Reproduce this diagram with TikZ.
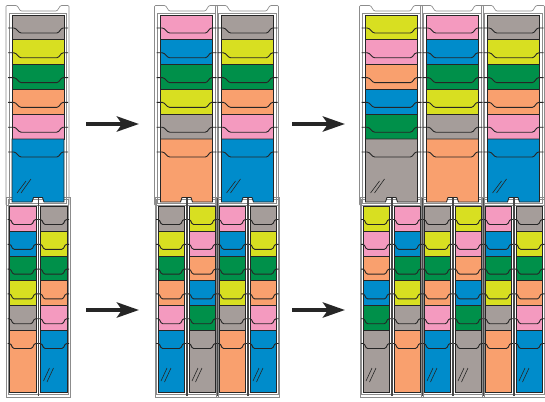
\documentclass[tikz,border=0pt]{standalone}
\usetikzlibrary{arrows.meta}
\definecolor{cgray}{HTML}{A59D9A}
\definecolor{cyel}{HTML}{D8DF21}
\definecolor{cgrn}{HTML}{00904A}
\definecolor{corg}{HTML}{F9A06E}
\definecolor{cpnk}{HTML}{F49ABF}
\definecolor{cblu}{HTML}{008CCB}
\definecolor{frm}{HTML}{8C8C8C}
\definecolor{ink}{HTML}{262626}
\tikzset{
 pocketline/.style={draw=ink, line width=0.85pt},
 tabln/.style={draw=ink, line width=0.9pt, rounded corners=1.2pt},
 frameln/.style={draw=frm, line width=0.65pt},
 divider/.style={draw=ink!85, line width=1.5pt},
 glass/.style={draw=ink, line width=0.6pt},
 bigarrow/.style={draw=ink, line width=4.5pt, -{Stealth[length=22pt,width=15pt,inset=5pt]}},
}
\newcommand{\seqA}{cgray,cyel,cgrn,corg,cpnk,cblu}
\newcommand{\seqB}{cpnk,cblu,cgrn,cyel,cgray,corg}
\newcommand{\seqC}{cyel,cpnk,corg,cblu,cgrn,cgray}
\newcommand{\wcol}[2]{%
 \foreach \cc [count=\ii from 0] in #2 {
   \pgfmathsetmacro\ya{15+24.8*\ii}
   \ifnum\ii<5
     \draw[pocketline, fill=\cc] (#1,\ya) rectangle ++(52,24.8);
   \else
     \draw[pocketline, fill=\cc] (#1,\ya) -- ++(52,0) -- (#1+52,202) -- (#1+32,202) -- (#1+30.5,197.5) -- (#1+21.5,197.5) -- (#1+20,202) -- (#1,202) -- cycle;
   \fi
   \draw[tabln] (#1-4,\ya+13) -- ++(7,0) -- ++(5,5) -- ++(38,0) -- ++(4,-5) -- ++(6,0);
 }
}
\newcommand{\ncol}[2]{%
 \foreach \cc [count=\ii from 0] in #2 {
   \pgfmathsetmacro\ya{206.5+24.8*\ii}
   \ifnum\ii<5
     \draw[pocketline, fill=\cc] (#1,\ya) rectangle ++(26.5,24.8);
   \else
     \draw[pocketline, fill=\cc] (#1,\ya) rectangle (#1+26.5,392.5);
   \fi
   \draw[tabln] (#1-2,\ya+13) -- ++(3,0) -- ++(2.5,5) -- ++(19,0) -- ++(2.5,-5) -- ++(3.5,0);
 }
}
\newcommand{\ufrm}[1]{%
 \draw[frameln, rounded corners=1pt] (#1-6,205.5) -- (#1-6,5.5) -- (#1+5,5.5) -- (#1+8.5,11) -- (#1+45,11) -- (#1+48.5,5.5) -- (#1+57,5.5) -- (#1+57,205.5) -- cycle;
 \draw[frameln] (#1-3,13) rectangle (#1+54.5,203.5);
}
\newcommand{\lfrm}[1]{%
 \draw[frameln] (#1-5.5,197) rectangle (#1+58,397.5);
 \draw[frameln] (#1-4,199) rectangle (#1+56.5,394.5);
}
\newcommand{\dvd}[1]{\draw[divider] (#1,197.5) -- (#1,395.5);}
\newcommand{\glw}[1]{\draw[glass] (#1+5,193) -- (#1+14,181); \draw[glass] (#1+9,193) -- (#1+19,179);}
\newcommand{\gln}[1]{\draw[glass] (#1+3,381) -- (#1+9,368); \draw[glass] (#1+6.5,382) -- (#1+13,368);}
\begin{document}
\begin{tikzpicture}[x=1pt,y=-1pt]
\fill[white] (0,0) rectangle (545,401);
\useasboundingbox (0,0) rectangle (545,401);
% frames
\foreach \p in {12,160.5,221.5,365.5,426.5,487.5} {\lfrm{\p}}
\foreach \p in {12,160.5,221.5,365.5,426.5,487.5} {\ufrm{\p}}
% upper columns
\wcol{12}{\seqA}
\wcol{160.5}{\seqB}
\wcol{221.5}{\seqA}
\wcol{365.5}{\seqC}
\wcol{426.5}{\seqB}
\wcol{487.5}{\seqA}
% lower columns
\ncol{9.5}{\seqB}
\ncol{40.5}{\seqA}
\ncol{158}{\seqA}
\ncol{189}{\seqC}
\ncol{219}{\seqB}
\ncol{250}{\seqA}
\ncol{363}{\seqC}
\ncol{394}{\seqB}
\ncol{424}{\seqA}
\ncol{455}{\seqC}
\ncol{485}{\seqB}
\ncol{516}{\seqA}
% dividers
\foreach \x in {38.25,186.75,217.25,247.75,391.75,422.25,452.75,483.25,513.75} {\dvd{\x}}
% glass marks
\glw{12}\glw{221.5}\glw{365.5}\glw{487.5}
\gln{40.5}\gln{158}\gln{189}\gln{250}\gln{363}\gln{424}\gln{455}\gln{516}
% arrows
\coordinate (a1s) at (86,124); \coordinate (a1e) at (139,124);
\coordinate (a2s) at (292,124); \coordinate (a2e) at (345,124);
\coordinate (a3s) at (86,310); \coordinate (a3e) at (139,310);
\coordinate (a4s) at (292,310); \coordinate (a4e) at (345,310);
\draw[bigarrow] (a1s) -- (a1e);
\draw[bigarrow] (a2s) -- (a2e);
\draw[bigarrow] (a3s) -- (a3e);
\draw[bigarrow] (a4s) -- (a4e);
\end{tikzpicture}
\end{document}
